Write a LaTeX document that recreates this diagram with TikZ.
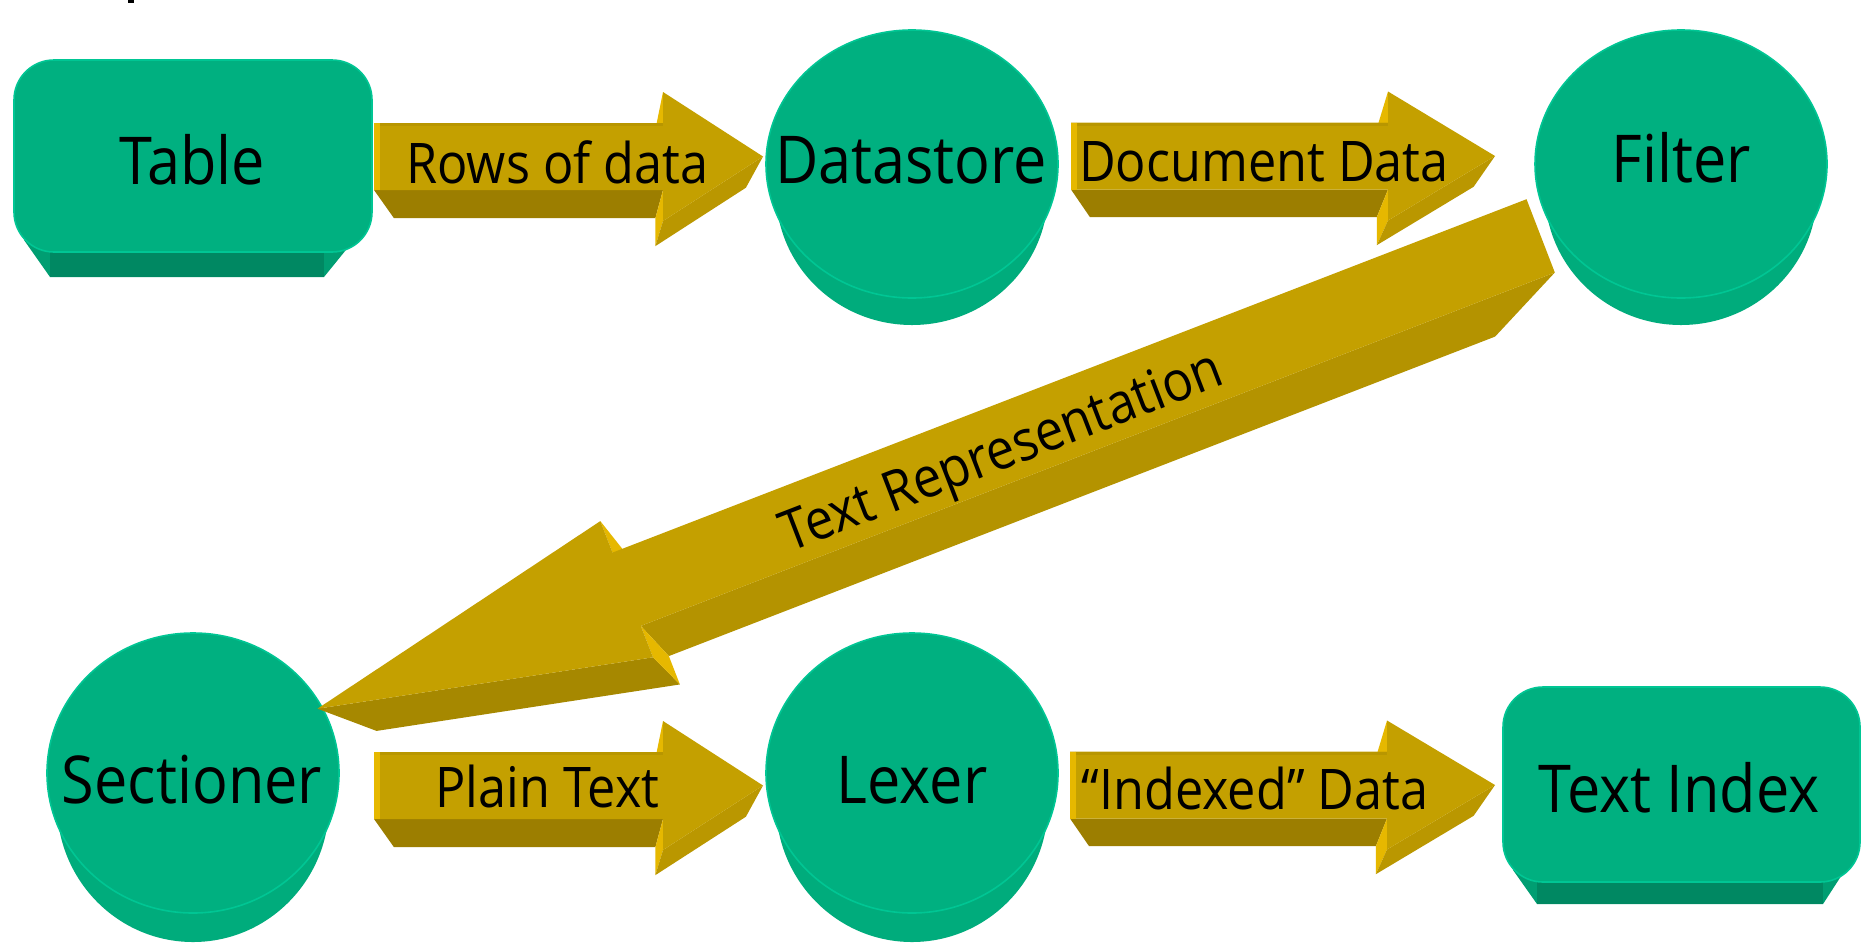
\documentclass[tikz,border=0pt]{standalone}
\usepackage{fontspec}
\setmainfont{Open Sans}[FakeStretch=0.9]
\usetikzlibrary{calc}
\definecolor{tealFace}{RGB}{0,176,128}
\definecolor{tealEdge}{RGB}{0,198,148}
\definecolor{tealSide}{RGB}{0,136,98}
\definecolor{tealSideL}{RGB}{0,172,124}
\definecolor{tealCorner}{RGB}{0,158,114}
\definecolor{goldFace}{RGB}{196,160,0}
\definecolor{goldBottom}{RGB}{156,126,0}
\definecolor{goldLow}{RGB}{180,147,0}
\definecolor{goldHeadLow}{RGB}{186,151,0}
\definecolor{goldHead}{RGB}{166,136,0}
\definecolor{goldBright}{RGB}{230,184,0}
\definecolor{goldTop}{RGB}{184,150,0}
\tikzset{
  nodelabel/.style={font=\fontsize{33}{40}\selectfont, text=black, inner sep=0pt, anchor=base},
  arrowlabel/.style={font=\fontsize{28}{34}\selectfont, text=black, inner sep=0pt, anchor=base},
  tealfacestyle/.style={fill=tealFace, draw=tealEdge, line width=0.8pt},
  tealsidestyle/.style={left color=tealSideL, middle color=tealSide, right color=tealSideL},
}
% disc: #1 style, #2 cx, #3 cy, #4 rx, #5 ry
\newcommand{\discFill}[5]{%
  \path[#1] (#2,#3) ellipse [x radius=#4, y radius=#5];}
% horizontal 3D block arrow: #1 name, #2 x left, #3 x head base, #4 x tip, #5 y centre, #6 Vx, #7 Vy
\newcommand{\hArrowShape}[7]{%
  \coordinate (#1-V) at (#6,#7);
  \coordinate (#1-a) at (#2,#5-33.5);
  \coordinate (#1-b) at (#3,#5-33.5);
  \coordinate (#1-c) at (#3,#5-64.5);
  \coordinate (#1-t) at (#4,#5);
  \coordinate (#1-d) at (#3,#5+64.5);
  \coordinate (#1-e) at (#3,#5+33.5);
  \coordinate (#1-f) at (#2,#5+33.5);
  \coordinate (#1-bx) at ($(#1-b)!0.095!(#1-V)$);
  \coordinate (#1-cx) at ($(#1-c)!0.095!(#1-V)$);
  \coordinate (#1-tx) at ($(#1-t)!0.095!(#1-V)$);
  \coordinate (#1-dx) at ($(#1-d)!0.095!(#1-V)$);
  \coordinate (#1-ex) at ($(#1-e)!0.095!(#1-V)$);
  \coordinate (#1-fx) at ($(#1-f)!0.095!(#1-V)$);
  \fill[goldBottom] (#1-f) -- (#1-e) -- (#1-ex) -- (#1-fx) -- cycle;
  \fill[goldBright] (#1-e) -- (#1-d) -- (#1-dx) -- (#1-ex) -- cycle;
  \fill[goldHeadLow] (#1-t) -- (#1-d) -- (#1-dx) -- (#1-tx) -- cycle;
  \fill[goldBright] (#1-b) -- (#1-c) -- (#1-cx) -- (#1-bx) -- cycle;
  \fill[goldFace] (#1-a) -- (#1-b) -- (#1-c) -- (#1-t) -- (#1-d) -- (#1-e) -- (#1-f) -- cycle;
  \draw[goldTop, line width=1.5pt] ($(#1-a)+(0,1.5)$) -- ($(#1-b)+(0,1.5)$);
  \draw[goldBright, line width=3pt] ($(#1-a)+(3,0)$) -- ($(#1-f)+(3,0)$);
}
\begin{document}
\begin{tikzpicture}[x=0.5pt,y=-0.5pt]
\useasboundingbox (0,0) rectangle (1866,943);
\clip (0,0) rectangle (1866,943);
\fill[white] (0,0) rectangle (1866,943);
\fill[black] (128,0) rectangle (134,3);

% ---------- Table (rounded box) ----------
\fill[tealCorner] (24,240) -- (50,277) -- (324,277) -- (354,240) -- cycle;
\fill[tealSide] (50,240) rectangle (324,277);
\path[tealfacestyle, rounded corners=20pt] (14,60) rectangle (372,252);
\node[nodelabel] (table) at (192,184) {Table};

% ---------- Text Index (rounded box) ----------
\fill[tealCorner] (1513,870) -- (1537,904) -- (1823,904) -- (1845,870) -- cycle;
\fill[tealSide] (1537,870) rectangle (1823,904);
\path[tealfacestyle, rounded corners=20pt] (1503,687) rectangle (1860,882);
\node[nodelabel] (textindex) at (1679,812) {Text Index};

% ---------- discs ----------
\discFill{tealsidestyle}{912}{192}{136}{133}
\discFill{tealfacestyle}{912}{164}{146}{134}
\node[nodelabel] (datastore) at (911,183) {Datastore};

\discFill{tealsidestyle}{1681}{192}{136}{133}
\discFill{tealfacestyle}{1681}{164}{146}{134}
\node[nodelabel] (filter) at (1681,182) {Filter};

\discFill{tealsidestyle}{193}{804}{136}{138}
\discFill{tealfacestyle}{193}{773}{146}{140}
\node[nodelabel] (sectioner) at (192,803) {Sectioner};

\discFill{tealsidestyle}{912}{804}{136}{138}
\discFill{tealfacestyle}{912}{773}{146}{140}
\node[nodelabel] (lexer) at (912,803) {Lexer};

% ---------- horizontal arrows ----------
\hArrowShape{rows}{374}{663}{763}{156.5}{583}{485}
\node[arrowlabel] (rowsLbl) at (557.5,183) {Rows of data};

\hArrowShape{doc}{1071}{1388}{1495}{156}{1270}{480}
\node[arrowlabel] (docLbl) at (1264,181) {Document Data};

\hArrowShape{plain}{374}{663}{763}{785.5}{583}{1114}
\node[arrowlabel] (plainLbl) at (547.5,807) {Plain Text};

\hArrowShape{idx}{1070}{1387}{1495}{785}{1270}{1109}
\node[arrowlabel] (idxLbl) at (1255,809) {“Indexed” Data};

% ---------- diagonal arrow Filter -> Sectioner ----------
\coordinate (tr-V) at (933,940);
\coordinate (tr-T) at (317.5,708.7);
\coordinate (tr-B1) at (600.3,521.1);
\coordinate (tr-I1) at (612.5,552.6);
\coordinate (tr-U1) at (1526.5,199.2);
\coordinate (tr-U2) at (1554.8,272.5);
\coordinate (tr-I2) at (640.8,625.9);
\coordinate (tr-B2) at (653.0,657.3);
\coordinate (tr-Tx) at ($(tr-T)!0.096!(tr-V)$);
\coordinate (tr-B1x) at ($(tr-B1)!0.096!(tr-V)$);
\coordinate (tr-I1x) at ($(tr-I1)!0.096!(tr-V)$);
\coordinate (tr-U2x) at ($(tr-U2)!0.096!(tr-V)$);
\coordinate (tr-I2x) at ($(tr-I2)!0.096!(tr-V)$);
\coordinate (tr-B2x) at ($(tr-B2)!0.096!(tr-V)$);
\fill[goldLow] (tr-I2) -- (tr-U2) -- (tr-U2x) -- (tr-I2x) -- cycle;
\fill[goldHead] (tr-T) -- (tr-B2) -- (tr-B2x) -- (tr-Tx) -- cycle;
\fill[goldBright] (tr-B2) -- (tr-I2) -- (tr-I2x) -- (tr-B2x) -- cycle;
\fill[goldBright] (tr-B1) -- (tr-I1) -- (tr-I1x) -- (tr-B1x) -- cycle;
\fill[goldFace] (tr-T) -- (tr-B1) -- (tr-I1) -- (tr-U1) -- (tr-U2) -- (tr-I2) -- (tr-B2) -- cycle;
\node[arrowlabel, rotate=21.1] (trLbl) at (1008,468) {Text Representation};
\end{tikzpicture}
\end{document}
